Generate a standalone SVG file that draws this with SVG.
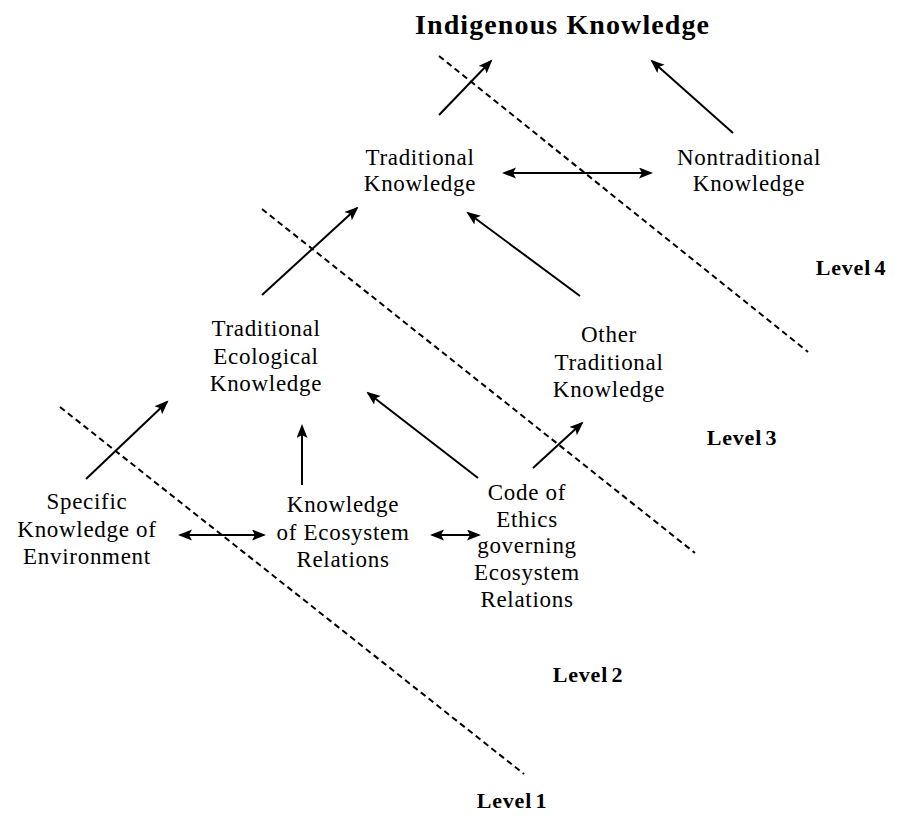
<svg xmlns="http://www.w3.org/2000/svg" width="903" height="836" viewBox="0 0 903 836">
  <style>
    .lbl { font-family: "Liberation Serif", "Times New Roman", serif; font-size: 23px; letter-spacing: 0.7px; fill: #000; text-anchor: middle; }
    .title { font-family: "Liberation Serif", "Times New Roman", serif; font-size: 28px; font-weight: bold; fill: #000; text-anchor: middle; }
    .level { font-family: "Liberation Serif", "Times New Roman", serif; font-size: 22px; font-weight: bold; letter-spacing: 0.8px; word-spacing: -3px; fill: #000; text-anchor: middle; }
    .arrow { stroke: #000; stroke-width: 2; fill: none; marker-end: url(#head); }
    .both { marker-start: url(#head); }
    .divider { stroke: #000; stroke-width: 2; stroke-dasharray: 6 4; fill: none; }
  </style>
  <defs>
    <marker id="head" markerUnits="userSpaceOnUse" markerWidth="15" markerHeight="12" refX="12" refY="5.5" orient="auto-start-reverse">
      <path d="M0,0 L14,5.5 L0,11 L3,5.5 z" fill="#000"/>
    </marker>
  </defs>
  <rect width="903" height="836" fill="#fff"/>

  <!-- level boundaries -->
  <g id="dividers">
    <line class="divider" x1="439" y1="56" x2="808" y2="352"/>
    <line class="divider" x1="262" y1="209" x2="695" y2="553"/>
    <line class="divider" x1="60" y1="407" x2="524" y2="774"/>
  </g>

  <!-- connectors -->
  <g id="connectors">
    <line class="arrow" x1="439" y1="115" x2="491" y2="61"/>
    <line class="arrow" x1="733" y1="133" x2="652" y2="61"/>
    <line class="arrow both" x1="504" y1="173" x2="651" y2="173"/>
    <line class="arrow" x1="262" y1="295" x2="357" y2="208"/>
    <line class="arrow" x1="580" y1="296" x2="468" y2="213"/>
    <line class="arrow" x1="86" y1="479" x2="167" y2="402"/>
    <line class="arrow" x1="302" y1="485" x2="302" y2="426"/>
    <line class="arrow" x1="478" y1="478" x2="368" y2="393"/>
    <line class="arrow" x1="533" y1="468" x2="582" y2="423"/>
    <line class="arrow both" x1="180" y1="535" x2="264" y2="535"/>
    <line class="arrow both" x1="432" y1="535" x2="479" y2="535"/>
  </g>

  <g id="indigenous-knowledge">
    <text class="title" x="562" y="34" textLength="294" lengthAdjust="spacing">Indigenous Knowledge</text>
  </g>

  <g id="traditional-knowledge">
    <text class="lbl" x="420" y="165">Traditional</text>
    <text class="lbl" x="420" y="191">Knowledge</text>
  </g>

  <g id="nontraditional-knowledge">
    <text class="lbl" x="749" y="165">Nontraditional</text>
    <text class="lbl" x="749" y="191">Knowledge</text>
  </g>

  <g id="traditional-ecological-knowledge">
    <text class="lbl" x="266" y="336">Traditional</text>
    <text class="lbl" x="266" y="364">Ecological</text>
    <text class="lbl" x="266" y="391">Knowledge</text>
  </g>

  <g id="other-traditional-knowledge">
    <text class="lbl" x="609" y="342">Other</text>
    <text class="lbl" x="609" y="370">Traditional</text>
    <text class="lbl" x="609" y="397">Knowledge</text>
  </g>

  <g id="specific-knowledge">
    <text class="lbl" x="87" y="509">Specific</text>
    <text class="lbl" x="87" y="537">Knowledge of</text>
    <text class="lbl" x="87" y="564">Environment</text>
  </g>

  <g id="ecosystem-relations">
    <text class="lbl" x="343" y="512">Knowledge</text>
    <text class="lbl" x="343" y="540">of Ecosystem</text>
    <text class="lbl" x="343" y="567">Relations</text>
  </g>

  <g id="code-of-ethics">
    <text class="lbl" x="527" y="500">Code of</text>
    <text class="lbl" x="527" y="527">Ethics</text>
    <text class="lbl" x="527" y="553">governing</text>
    <text class="lbl" x="527" y="580">Ecosystem</text>
    <text class="lbl" x="527" y="607">Relations</text>
  </g>

  <g id="levels">
    <text class="level" x="851" y="275">Level 4</text>
    <text class="level" x="742" y="445">Level 3</text>
    <text class="level" x="588" y="682">Level 2</text>
    <text class="level" x="512" y="808">Level 1</text>
  </g>
</svg>
